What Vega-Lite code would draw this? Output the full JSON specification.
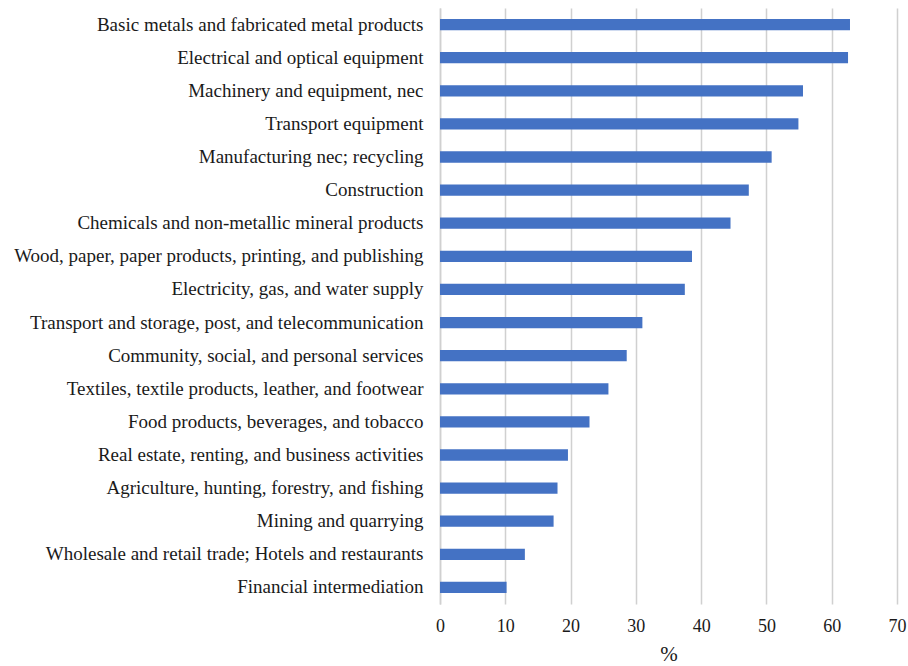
{
  "$schema": "https://vega.github.io/schema/vega-lite/v6.json",
  "autosize": {"type": "none"},
  "width": 457,
  "height": 596,
  "padding": {"left": 440, "top": 8, "right": 11, "bottom": 62},
  "background": "white",
  "config": {"view": {"stroke": null}, "font": "Liberation Serif"},
  "data": {"values": [
    {"sector": "Basic metals and fabricated metal products", "value": 62.8},
    {"sector": "Electrical and optical equipment", "value": 62.5},
    {"sector": "Machinery and equipment, nec", "value": 55.6},
    {"sector": "Transport equipment", "value": 54.9},
    {"sector": "Manufacturing nec; recycling", "value": 50.8},
    {"sector": "Construction", "value": 47.3},
    {"sector": "Chemicals and non-metallic mineral products", "value": 44.5},
    {"sector": "Wood, paper, paper products, printing, and publishing", "value": 38.6},
    {"sector": "Electricity, gas, and water supply", "value": 37.5},
    {"sector": "Transport and storage, post, and telecommunication", "value": 31.0},
    {"sector": "Community, social, and personal services", "value": 28.6},
    {"sector": "Textiles, textile products, leather, and footwear", "value": 25.8},
    {"sector": "Food products, beverages, and tobacco", "value": 22.9},
    {"sector": "Real estate, renting, and business activities", "value": 19.6},
    {"sector": "Agriculture, hunting, forestry, and fishing", "value": 18.0},
    {"sector": "Mining and quarrying", "value": 17.4},
    {"sector": "Wholesale and retail trade; Hotels and restaurants", "value": 13.0},
    {"sector": "Financial intermediation", "value": 10.2}
  ]},
  "mark": {"type": "bar", "color": "#4472C4"},
  "encoding": {
    "y": {
      "field": "sector", "type": "nominal", "sort": null,
      "scale": {"paddingInner": 0.66, "paddingOuter": 0.33},
      "axis": {
        "title": null, "ticks": false, "domain": true, "domainColor": "#d0d0d0", "domainWidth": 1.5,
        "labelFont": "Liberation Serif", "labelFontSize": 19, "labelColor": "#1a1a1a",
        "labelPadding": 17, "labelLimit": 0
      }
    },
    "x": {
      "field": "value", "type": "quantitative",
      "scale": {"domain": [0, 70], "nice": false},
      "axis": {
        "title": "%", "titleFont": "Liberation Serif", "titleFontSize": 21, "titleFontWeight": "normal",
        "titleColor": "#1a1a1a", "titlePadding": 8,
        "values": [0, 10, 20, 30, 40, 50, 60, 70], "format": "d", "labelFlush": false,
        "labelFont": "Liberation Serif", "labelFontSize": 18, "labelColor": "#1a1a1a", "labelPadding": 13,
        "ticks": false, "domain": false,
        "grid": true, "gridColor": "#d0d0d0", "gridWidth": 1.5
      }
    }
  }
}
